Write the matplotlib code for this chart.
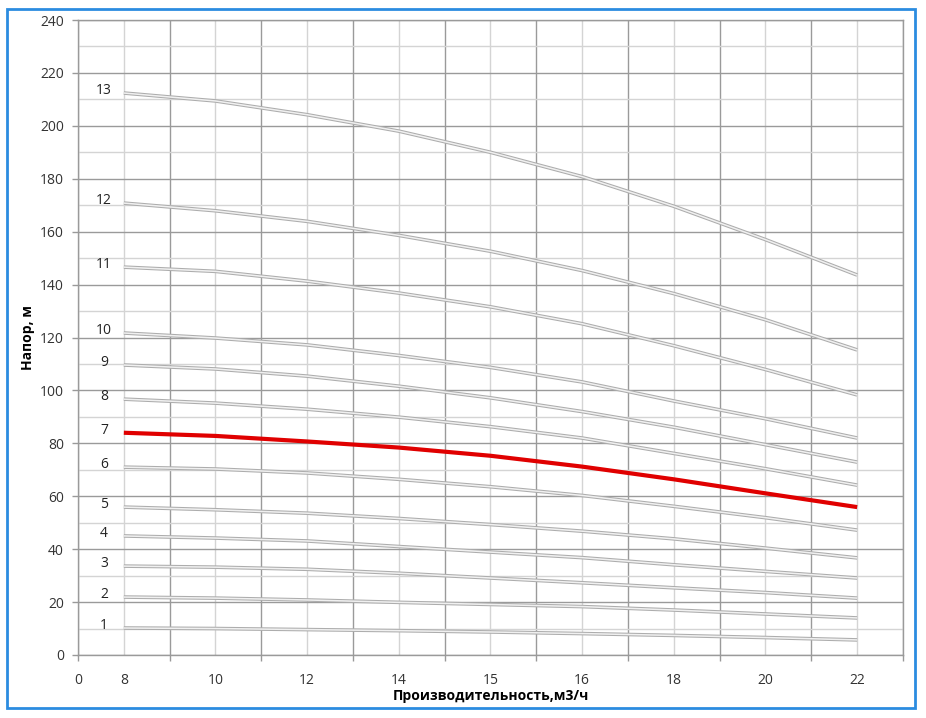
import numpy as np
import matplotlib
matplotlib.use('Agg')
import matplotlib.pyplot as plt
from matplotlib.patches import Rectangle
from matplotlib.ticker import FixedLocator

plt.rcParams['font.family'] = ['Open Sans', 'DejaVu Sans']

# подписи оси X (категориальная ось, как в Excel)
q_labels = ['8', '10', '12', '14', '15', '16', '18', '20', '22']

# напор, м для каждой кривой (число ступеней)
h1 = [10.2, 10.0, 9.6, 9.2, 8.7, 8.1, 7.4, 6.6, 5.7]
h2 = [21.9, 21.5, 20.8, 19.9, 19.1, 18.3, 17.0, 15.5, 14.0]
h3 = [33.6, 33.2, 32.4, 30.9, 29.1, 27.3, 25.4, 23.6, 21.5]
h4 = [45.0, 44.2, 43.1, 41.0, 38.9, 36.8, 34.1, 31.6, 29.1]
h5 = [55.9, 54.9, 53.6, 51.6, 49.3, 46.8, 43.9, 40.4, 36.7]
h6 = [71.0, 70.3, 68.8, 66.4, 63.6, 60.3, 56.2, 51.9, 47.2]
h7 = [84.0, 82.8, 80.7, 78.4, 75.3, 71.2, 66.4, 61.1, 55.9]
h8 = [96.7, 95.2, 92.9, 89.9, 86.3, 82.0, 76.2, 70.4, 64.2]
h9 = [109.6, 108.1, 105.4, 101.6, 97.2, 92.0, 86.1, 79.5, 72.9]
h10 = [121.7, 119.8, 117.2, 113.2, 108.7, 103.2, 96.0, 89.3, 82.0]
h11 = [146.6, 145.0, 141.3, 136.8, 131.6, 125.2, 116.9, 107.9, 98.3]
h12 = [170.8, 167.9, 163.9, 158.6, 152.6, 145.3, 136.6, 126.7, 115.3]
h13 = [212.4, 209.4, 204.2, 198.0, 190.0, 180.8, 169.6, 157.0, 143.6]

curves = [h1, h2, h3, h4, h5, h6, h7, h8, h9, h10, h11, h12, h13]
red_curve = 7

fig = plt.figure(figsize=(9.26, 7.18), dpi=100)
ax = fig.add_axes([78 / 926, 1 - 655 / 718, 825 / 926, 635 / 718])

pos = 1 + 2 * np.arange(len(q_labels))

for n, h in enumerate(curves, start=1):
    if n == red_curve:
        ax.plot(pos, h, color='#e00000', lw=3.0, solid_capstyle='butt', zorder=4)
    else:
        ax.plot(pos, h, color='#adadad', lw=2.6, solid_capstyle='butt', zorder=3)
        ax.plot(pos, h, color='#f0f0f0', lw=1.1, solid_capstyle='butt', zorder=3)
    ax.text(0.57, h[0] + 1, str(n), ha='center', va='center', fontsize=10, color='#222222')

ax.set_xlim(0, 18)
ax.set_ylim(0, 240)

# ось X: крупные деления (тёмная сетка) на чётных позициях, подписи на нечётных
ax.xaxis.set_major_locator(FixedLocator(np.arange(0, 19, 2)))
ax.set_xticklabels(['0'] + [''] * 9)
ax.xaxis.set_minor_locator(FixedLocator(pos))
ax.set_xticklabels(q_labels, minor=True)
ax.tick_params(axis='x', which='major', length=4, width=1, color='#999999', pad=9,
               labelsize=10, labelcolor='#333333')
ax.tick_params(axis='x', which='minor', length=0, pad=13, labelsize=10, labelcolor='#333333')

ax.set_yticks(np.arange(0, 241, 20))
ax.yaxis.set_minor_locator(FixedLocator(np.arange(10, 240, 20)))
ax.tick_params(axis='y', which='major', length=4, width=1, color='#999999', pad=6,
               labelsize=10, labelcolor='#333333')
ax.tick_params(axis='y', which='minor', length=0)

ax.grid(which='major', color='#9a9a9a', lw=1.0, zorder=1)
ax.grid(which='minor', color='#d4d4d4', lw=1.0, zorder=1)
ax.set_axisbelow(True)
for s in ax.spines.values():
    s.set_color('#9a9a9a')
    s.set_linewidth(1.0)

ax.set_xlabel('Производительность,м3/ч', fontsize=10, fontweight='bold', labelpad=1)
ax.set_ylabel('Напор, м', fontsize=10, fontweight='bold', labelpad=4)

# синяя рамка вокруг рисунка
fig.patches.append(Rectangle((7 / 926, 1 - 708 / 718), 908 / 926, 699 / 718,
                             transform=fig.transFigure, fill=False,
                             edgecolor='#2b8ce0', lw=2.0))

fig.savefig('out.png', dpi=100)
plt.close(fig)
